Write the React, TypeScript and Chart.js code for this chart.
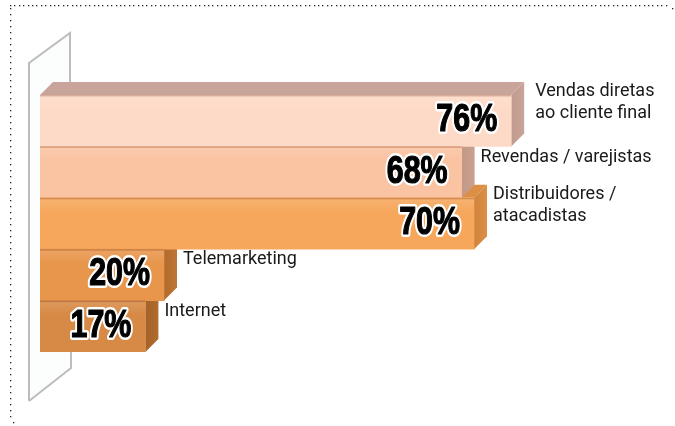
import React, { useEffect, useRef } from "react";
import { Chart, registerables } from "chart.js";

Chart.register(...registerables);

const categories: string[][] = [
  ["Vendas diretas", "ao cliente final"],
  ["Revendas / varejistas"],
  ["Distribuidores /", "atacadistas"],
  ["Telemarketing"],
  ["Internet"],
];
const values: number[] = [76, 68, 70, 20, 17];
const valueLabels: string[] = ["76%", "68%", "70%", "20%", "17%"];

const frontColors = ["#FDDAC7", "#FAC3A2", "#F6A75C", "#E8964C", "#D78A45"];
const topColors = ["#C8A49A", "#C9A08F", "#DC8F45", "#BF7535", "#B06C2E"];
const sideColors = ["#C29A8E", "#C39886", "#D0843C", "#B16B2C", "#A46228"];

const DEPTH = 13;

const decoPlugin = {
  id: "deco",
  beforeDraw(chart: any) {
    const c = chart.ctx;
    c.save();
    c.fillStyle = "#ffffff";
    c.fillRect(0, 0, chart.width, chart.height);
    c.fillStyle = "#222";
    for (let x = 10; x <= 668; x += 4.4) c.fillRect(Math.round(x), 5, 1.3, 1.3);
    c.fillRect(672, 8, 1.3, 1.3);
    for (let y = 8; y <= 418; y += 6) c.fillRect(10, Math.round(y), 1.3, 1.3);
    c.fillRect(13, 422, 1.3, 1.3);
    c.fillStyle = "#fcfdfd";
    c.beginPath();
    c.moveTo(29, 63);
    c.lineTo(70, 33);
    c.lineTo(70, 368);
    c.lineTo(29, 401);
    c.closePath();
    c.fill();
    c.strokeStyle = "#bdbdbd";
    c.lineWidth = 2;
    c.beginPath();
    c.moveTo(29, 401);
    c.lineTo(29, 63);
    c.lineTo(70, 33);
    c.lineTo(70, 84);
    c.stroke();
    c.beginPath();
    c.moveTo(29, 401);
    c.lineTo(71, 368);
    c.lineTo(71, 352);
    c.stroke();
    c.restore();
  },
  beforeDatasetsDraw(chart: any) {
    const c = chart.ctx;
    const meta = chart.getDatasetMeta(0);
    c.save();
    for (let i = meta.data.length - 1; i >= 0; i--) {
      const b: any = meta.data[i];
      const top = b.y - b.height / 2;
      const bottom = b.y + b.height / 2;
      const left = b.base;
      const right = b.x;
      c.fillStyle = topColors[i];
      c.beginPath();
      c.moveTo(left, top);
      c.lineTo(left + DEPTH, top - DEPTH);
      c.lineTo(right + DEPTH, top - DEPTH);
      c.lineTo(right, top);
      c.closePath();
      c.fill();
      const g = c.createLinearGradient(right, 0, right + DEPTH, 0);
      g.addColorStop(0, sideColors[i]);
      g.addColorStop(1, topColors[i]);
      c.fillStyle = g;
      c.beginPath();
      c.moveTo(right, top);
      c.lineTo(right + DEPTH, top - DEPTH);
      c.lineTo(right + DEPTH, bottom - DEPTH);
      c.lineTo(right, bottom);
      c.closePath();
      c.fill();
    }
    c.restore();
  },
  afterDatasetsDraw(chart: any) {
    const c = chart.ctx;
    const meta = chart.getDatasetMeta(0);
    c.save();
    meta.data.forEach((b: any, i: number) => {
      const top = b.y - b.height / 2;
      c.fillStyle = "rgba(150,90,60,0.35)";
      c.fillRect(b.base, top, b.x - b.base, 1.5);
      const lg = c.createLinearGradient(0, top, 0, top + 14);
      lg.addColorStop(0, "rgba(255,255,255,0.14)");
      lg.addColorStop(1, "rgba(255,255,255,0)");
      c.fillStyle = lg;
      c.fillRect(b.base, top + 1.5, b.x - b.base, 13);

      c.save();
      c.translate(b.x - 14, b.y);
      c.scale(0.8, 1);
      c.font = 'bold 38px "Liberation Sans", "Arial", sans-serif';
      c.textAlign = "right";
      c.textBaseline = "middle";
      c.lineJoin = "round";
      c.lineWidth = 6;
      c.strokeStyle = "#ffffff";
      c.strokeText(valueLabels[i], 0, 0);
      c.fillStyle = "#000000";
      c.fillText(valueLabels[i], 0, 0);
      c.lineWidth = 1.2;
      c.strokeStyle = "#000000";
      c.strokeText(valueLabels[i], 0, 0);
      c.restore();

      const lines = categories[i];
      c.font = '18px "Roboto", "DejaVu Sans", sans-serif';
      c.textAlign = "left";
      c.textBaseline = "middle";
      c.fillStyle = "#1a1a1a";
      const lh = 22;
      const y0 = lines.length === 1 ? b.y - 15 : b.y - 29;
      const gap = i === 0 ? 11 : 6;
      lines.forEach((ln, k) => {
        c.fillText(ln, b.x + DEPTH + gap, y0 + k * lh);
      });
    });
    c.restore();
  },
};

export default function App() {
  const ref = useRef<HTMLCanvasElement | null>(null);
  useEffect(() => {
    if (!ref.current) return;
    const chart = new Chart(ref.current, {
      type: "bar",
      data: {
        labels: categories.map((l) => l.join(" ")),
        datasets: [
          {
            data: values,
            backgroundColor: frontColors,
            borderWidth: 0,
            categoryPercentage: 1,
            barPercentage: 1,
          },
        ],
      },
      options: {
        indexAxis: "y",
        responsive: false,
        animation: false,
        layout: { padding: { left: 40, top: 95, right: 15, bottom: 74 } },
        scales: {
          x: { display: false, min: 0, max: 100 },
          y: { display: false },
        },
        plugins: {
          legend: { display: false },
          tooltip: { enabled: false },
          title: { display: false },
        },
      },
      plugins: [decoPlugin],
    });
    return () => chart.destroy();
  }, []);
  return (
    <div style={{ position: "absolute", left: 0, top: 0, width: 675, height: 426 }}>
      <canvas ref={ref} width={675} height={426} style={{ display: "block" }} />
    </div>
  );
}
